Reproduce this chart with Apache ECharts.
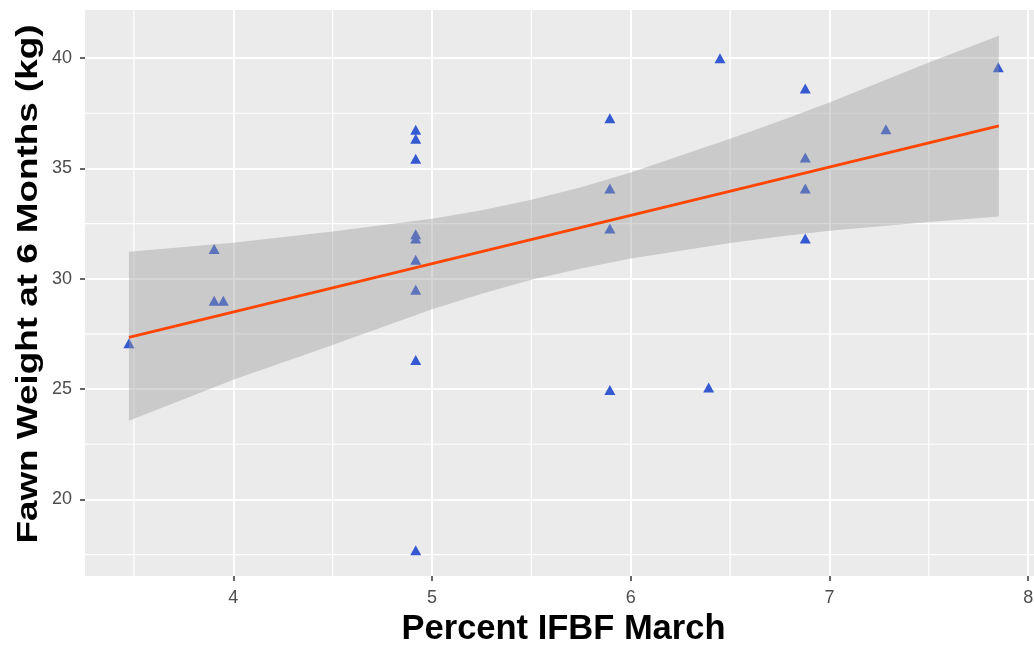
<!DOCTYPE html>
<html>
<head>
<meta charset="utf-8">
<script src="https://cdn.jsdelivr.net/npm/echarts@6/dist/echarts.min.js"></script>
<style>
  html, body { margin: 0; padding: 0; background: #ffffff; }
  #chart { width: 1034px; height: 647px; }
</style>
</head>
<body>
<div id="chart"></div>
<script>
// ---- data ----
const pointX = [3.475, 3.904, 3.904, 3.950,
  4.918, 4.918, 4.918, 4.918, 4.918, 4.918, 4.918, 4.918, 4.918,
  5.895, 5.895, 5.895, 5.895, 6.392, 6.449,
  6.878, 6.878, 6.878, 6.878, 7.284, 7.849];
const pointY = [27.08, 31.35, 29.00, 29.00,
  36.75, 36.35, 35.44, 32.02, 31.83, 30.86, 29.50, 26.32, 17.70,
  37.27, 34.09, 32.28, 24.96, 25.07, 39.99,
  38.62, 35.49, 34.09, 31.83, 36.78, 39.58];

// fitted line (read at its two ends)
const fitX = [3.475, 7.852];
const fitY = [27.34, 36.93];

// confidence band edges, read at these x positions
const bandX     = [3.475, 4.0,   4.5,   5.0,   5.25,  5.5,   5.75,  6.0,   6.5,   6.75,  7.0,   7.5,   7.852];
const bandUpper = [31.22, 31.63, 32.14, 32.72, 33.10, 33.58, 34.15, 34.82, 36.34, 37.15, 37.99, 39.80, 41.01];
const bandLower = [23.56, 25.42, 27.00, 28.62, 29.32, 29.95, 30.47, 30.92, 31.62, 31.92, 32.18, 32.57, 32.82];

// axis ticks
const xTicks = [4, 5, 6, 7, 8];
const yTicks = [20, 25, 30, 35, 40];
const xMinor = [3.5, 4.5, 5.5, 6.5, 7.5];
const yMinor = [17.5, 22.5, 27.5, 32.5, 37.5];

const xTitle = 'Percent IFBF March';
const yTitle = 'Fawn Weight at 6 Months (kg)';

// ---- chart ----
const chart = echarts.init(document.getElementById('chart'), null, { renderer: 'canvas' });
const FONT = 'Liberation Sans, Arial, sans-serif';

const option = {
  animation: false,
  backgroundColor: '#ffffff',
  grid: {
    left: 85, top: 10, right: 0, bottom: 71,
    outerBoundsMode: 'none',
    containLabel: false,
    show: true, backgroundColor: '#EBEBEB', borderWidth: 0
  },
  graphic: {
    elements: [{
      type: 'text',
      x: 29, y: 284,
      rotation: Math.PI / 2,
      scaleX: 1.27,
      silent: true,
      style: {
        text: yTitle,
        font: 'bold 29px "Liberation Sans", Arial, sans-serif',
        fill: '#000000',
        align: 'center', verticalAlign: 'middle',
        textAlign: 'center', textVerticalAlign: 'middle'
      }
    }]
  },
  xAxis: {
    type: 'value',
    min: 3.254, max: 8.029,
    axisLine: { show: false },
    axisTick: { show: true, length: 5, customValues: xTicks, lineStyle: { color: '#333333', width: 1.5 } },
    axisLabel: { customValues: xTicks, color: '#4D4D4D', fontSize: 18, fontFamily: FONT, margin: 13 },
    splitLine: { show: true, lineStyle: { color: '#ffffff', width: 2 } },
    name: xTitle,
    nameLocation: 'middle',
    nameGap: 32,
    nameTextStyle: { color: '#000000', fontSize: 34.5, fontWeight: 'bold', fontFamily: FONT, padding: [0, 0, 0, 8] }
  },
  yAxis: {
    type: 'value',
    min: 16.53, max: 42.18,
    axisLine: { show: false },
    axisTick: { show: true, length: 5, customValues: yTicks, lineStyle: { color: '#333333', width: 1.5 } },
    axisLabel: { customValues: yTicks, color: '#4D4D4D', fontSize: 18, fontFamily: FONT, margin: 13 },
    splitLine: { show: true, lineStyle: { color: '#ffffff', width: 2 } }
  },
  series: [
    {
      // minor grid lines
      type: 'custom',
      silent: true,
      z: 1,
      data: [[xMinor[0], yMinor[0]]],
      renderItem: function (params, api) {
        const cs = params.coordSys;
        const children = [];
        xMinor.forEach(function (v) {
          const p = api.coord([v, yMinor[0]]);
          children.push({ type: 'line', shape: { x1: p[0], y1: cs.y, x2: p[0], y2: cs.y + cs.height },
            style: { stroke: '#ffffff', lineWidth: 1.2 } });
        });
        yMinor.forEach(function (v) {
          const p = api.coord([xMinor[0], v]);
          children.push({ type: 'line', shape: { x1: cs.x, y1: p[1], x2: cs.x + cs.width, y2: p[1] },
            style: { stroke: '#ffffff', lineWidth: 1.2 } });
        });
        return { type: 'group', children: children };
      }
    },
    {
      type: 'scatter',
      z: 2,
      symbol: 'triangle',
      symbolSize: [11, 10],
      itemStyle: { color: '#3559D1', opacity: 1 },
      data: pointX.map(function (x, i) { return [x, pointY[i]]; })
    },
    {
      // confidence band
      type: 'custom',
      silent: true,
      z: 3,
      data: [[bandX[0], bandLower[0]]],
      renderItem: function (params, api) {
        const pts = [];
        for (let i = 0; i < bandX.length; i++) pts.push(api.coord([bandX[i], bandUpper[i]]));
        for (let i = bandX.length - 1; i >= 0; i--) pts.push(api.coord([bandX[i], bandLower[i]]));
        return { type: 'polygon', shape: { points: pts }, style: { fill: 'rgba(153,153,153,0.4)' } };
      }
    },
    {
      type: 'line',
      z: 4,
      symbol: 'none',
      lineStyle: { color: '#FF4500', width: 2.8 },
      data: fitX.map(function (x, i) { return [x, fitY[i]]; })
    }
  ]
};
chart.setOption(option);
</script>
</body>
</html>
